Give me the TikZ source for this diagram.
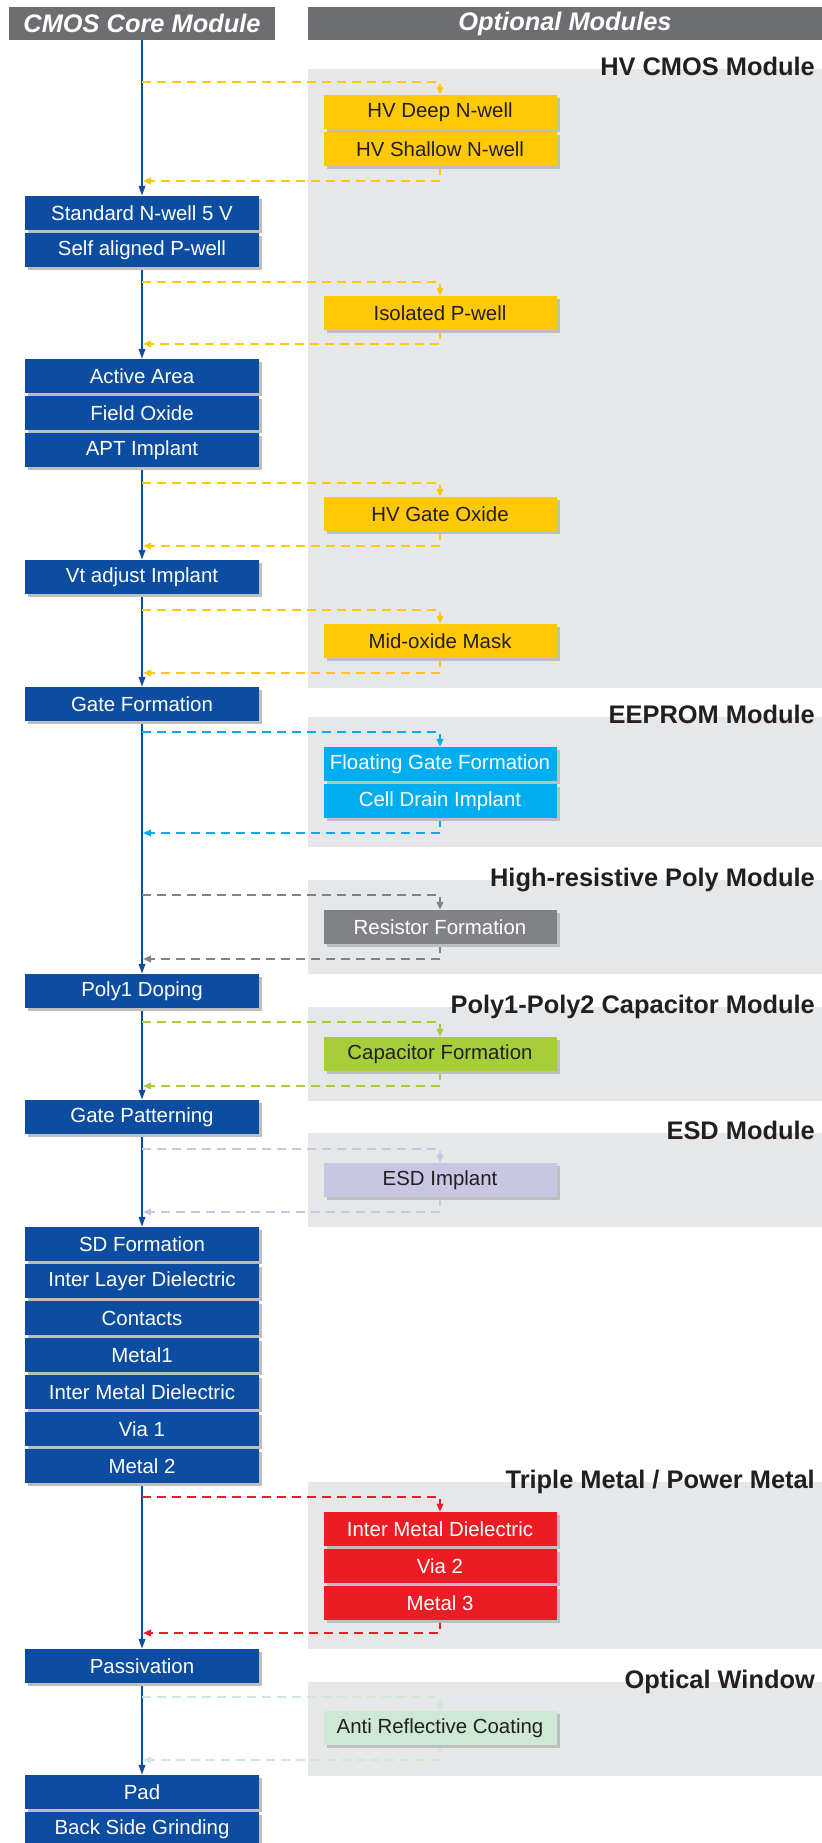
\documentclass[tikz,border=0pt]{standalone}
\usepackage{fontspec}
\setmainfont{Liberation Sans}
\usetikzlibrary{arrows.meta,shadows,backgrounds}
\definecolor{coreblue}{HTML}{0D4DA1}
\definecolor{hdrgray}{HTML}{6D6E71}
\definecolor{panelgray}{HTML}{E6E7E8}
\definecolor{shadowc}{HTML}{BCBEC0}
\definecolor{hvorange}{HTML}{FFC907}
\definecolor{eecyan}{HTML}{00AEEF}
\definecolor{hrgray}{HTML}{808285}
\definecolor{ppgreen}{HTML}{A6CE39}
\definecolor{esdlav}{HTML}{C8C6E3}
\definecolor{tmred}{HTML}{ED1C24}
\definecolor{owmint}{HTML}{CDE8D4}
\definecolor{darktext}{HTML}{231F20}
\begin{document}
\begin{tikzpicture}[x=1bp,y=-1bp,
  boxbase/.style={rectangle, minimum width=233bp, minimum height=34bp, inner sep=0pt,
    font=\fontsize{20.5}{24}\selectfont,
    general shadow={fill=shadowc, shadow xshift=3bp, shadow yshift=-3bp}},
  core/.style={boxbase, fill=coreblue, text=white},
  optlight/.style={boxbase, fill=#1, text=darktext},
  optdark/.style={boxbase, fill=#1, text=white},
  header/.style={rectangle, fill=hdrgray, text=white, minimum height=33bp, inner sep=0pt,
    font=\fontsize{25.5}{28}\selectfont\bfseries\itshape},
  modtitle/.style={anchor=base east, inner sep=0pt, text=darktext,
    font=\fontsize{25.5}{28}\selectfont\bfseries},
  panel/.style={fill=panelgray},
  mainl/.style={draw=coreblue, line width=2bp},
  mainarrow/.style={mainl, -{Triangle[length=10bp,width=6.5bp]}},
  dline/.style={draw=#1, line width=1.8bp, dash pattern=on 9bp off 6bp,
    -{Triangle[length=8bp,width=6.5bp]}}
]
\useasboundingbox (0,0) rectangle (822,1843);

% headers
\node[header, minimum width=266bp] (hcore) at (142,23.5) {CMOS Core Module};
\node[header, minimum width=514bp] (hopt) at (565,23.5) {Optional Modules};

% core boxes
\node[core] (c1) at (142,213) {Standard N-well 5 V};
\node[core] (c2) at (142,250) {Self aligned P-well};
\node[core] (c3) at (142,376) {Active Area};
\node[core] (c4) at (142,413) {Field Oxide};
\node[core] (c5) at (142,450) {APT Implant};
\node[core] (c6) at (142,577) {Vt adjust Implant};
\node[core] (c7) at (142,704) {Gate Formation};
\node[core] (c8) at (142,991) {Poly1 Doping};
\node[core] (c9) at (142,1117) {Gate Patterning};
\node[core] (c10) at (142,1244) {SD Formation};
\node[core] (c11) at (142,1281) {Inter Layer Dielectric};
\node[core] (c12) at (142,1318) {Contacts};
\node[core] (c13) at (142,1355) {Metal1};
\node[core] (c14) at (142,1392) {Inter Metal Dielectric};
\node[core] (c15) at (142,1429) {Via 1};
\node[core] (c16) at (142,1466) {Metal 2};
\node[core] (c17) at (142,1666) {Passivation};
\node[core] (c18) at (142,1792) {Pad};
\node[core] (c19) at (142,1829) {Back Side Grinding};

% optional boxes
\node[optlight=hvorange] (o1) at (440,112) {HV Deep N-well};
\node[optlight=hvorange] (o2) at (440,149) {HV Shallow N-well};
\node[optlight=hvorange] (o3) at (440,313) {Isolated P-well};
\node[optlight=hvorange] (o4) at (440,514) {HV Gate Oxide};
\node[optlight=hvorange] (o5) at (440,641) {Mid-oxide Mask};
\node[optdark=eecyan] (o6) at (440,764) {Floating Gate Formation};
\node[optdark=eecyan] (o7) at (440,801) {Cell Drain Implant};
\node[optdark=hrgray] (o8) at (440,927) {Resistor Formation};
\node[optlight=ppgreen] (o9) at (440,1054) {Capacitor Formation};
\node[optlight=esdlav] (o10) at (440,1180) {ESD Implant};
\node[optdark=tmred] (o11) at (440,1529) {Inter Metal Dielectric};
\node[optdark=tmred] (o12) at (440,1566) {Via 2};
\node[optdark=tmred] (o13) at (440,1603) {Metal 3};
\node[optlight=owmint] (o14) at (440,1728) {Anti Reflective Coating};

% module titles
\node[modtitle] (tHV) at (815,75.5) {HV CMOS Module};
\node[modtitle] (tEE) at (815,723.5) {EEPROM Module};
\node[modtitle] (tHR) at (815,886.5) {High-resistive Poly Module};
\node[modtitle] (tPP) at (815,1013.5) {Poly1-Poly2 Capacitor Module};
\node[modtitle] (tESD) at (815,1139.5) {ESD Module};
\node[modtitle] (tTM) at (815,1488.5) {Triple Metal / Power Metal};
\node[modtitle] (tOW) at (815,1688.5) {Optical Window};

% branch points on the main line
\coordinate (a1) at (142,82);   \coordinate (b1) at (143,181);
\coordinate (a2) at (142,282);  \coordinate (b2) at (143,344);
\coordinate (a3) at (142,483);  \coordinate (b3) at (143,546);
\coordinate (a4) at (142,610);  \coordinate (b4) at (143,673);
\coordinate (a5) at (142,732);  \coordinate (b5) at (143,833);
\coordinate (a6) at (142,895);  \coordinate (b6) at (143,959);
\coordinate (a7) at (142,1022); \coordinate (b7) at (143,1086);
\coordinate (a8) at (142,1149); \coordinate (b8) at (143,1212);
\coordinate (a9) at (142,1497); \coordinate (b9) at (143,1633);
\coordinate (a10) at (142,1697); \coordinate (b10) at (143,1760);

\begin{pgfonlayer}{background}
% panels
\fill[panel] (308,69) rectangle (822,688);
\fill[panel] (308,717) rectangle (822,847);
\fill[panel] (308,880) rectangle (822,974);
\fill[panel] (308,1007) rectangle (822,1101);
\fill[panel] (308,1133) rectangle (822,1227);
\fill[panel] (308,1482) rectangle (822,1649);
\fill[panel] (308,1682) rectangle (822,1776);

% main flow
\draw[mainarrow] (hcore.south) -- (c1.north);
\draw[mainl] (c1.south) -- (c2.north);
\draw[mainarrow] (c2.south) -- (c3.north);
\draw[mainl] (c3.south) -- (c4.north);
\draw[mainl] (c4.south) -- (c5.north);
\draw[mainarrow] (c5.south) -- (c6.north);
\draw[mainarrow] (c6.south) -- (c7.north);
\draw[mainarrow] (c7.south) -- (c8.north);
\draw[mainarrow] (c8.south) -- (c9.north);
\draw[mainarrow] (c9.south) -- (c10.north);
\draw[mainl] (c10.south) -- (c11.north);
\draw[mainl] (c11.south) -- (c12.north);
\draw[mainl] (c12.south) -- (c13.north);
\draw[mainl] (c13.south) -- (c14.north);
\draw[mainl] (c14.south) -- (c15.north);
\draw[mainl] (c15.south) -- (c16.north);
\draw[mainarrow] (c16.south) -- (c17.north);
\draw[mainarrow] (c17.south) -- (c18.north);
\draw[mainl] (c18.south) -- (c19.north);

% optional detours
\draw[dline=hvorange] (a1) -| (o1.north);
\draw[dline=hvorange] (o2.south) |- (b1);
\draw[dline=hvorange] (a2) -| (o3.north);
\draw[dline=hvorange] (o3.south) |- (b2);
\draw[dline=hvorange] (a3) -| (o4.north);
\draw[dline=hvorange] (o4.south) |- (b3);
\draw[dline=hvorange] (a4) -| (o5.north);
\draw[dline=hvorange] (o5.south) |- (b4);
\draw[dline=eecyan] (a5) -| (o6.north);
\draw[dline=eecyan] (o7.south) |- (b5);
\draw[dline=hrgray] (a6) -| (o8.north);
\draw[dline=hrgray] (o8.south) |- (b6);
\draw[dline=ppgreen] (a7) -| (o9.north);
\draw[dline=ppgreen] (o9.south) |- (b7);
\draw[dline=esdlav] (a8) -| (o10.north);
\draw[dline=esdlav] (o10.south) |- (b8);
\draw[dline=tmred] (a9) -| (o11.north);
\draw[dline=tmred] (o13.south) |- (b9);
\draw[dline=owmint] (a10) -| (o14.north);
\draw[dline=owmint] (o14.south) |- (b10);
\end{pgfonlayer}
\end{tikzpicture}
\end{document}
